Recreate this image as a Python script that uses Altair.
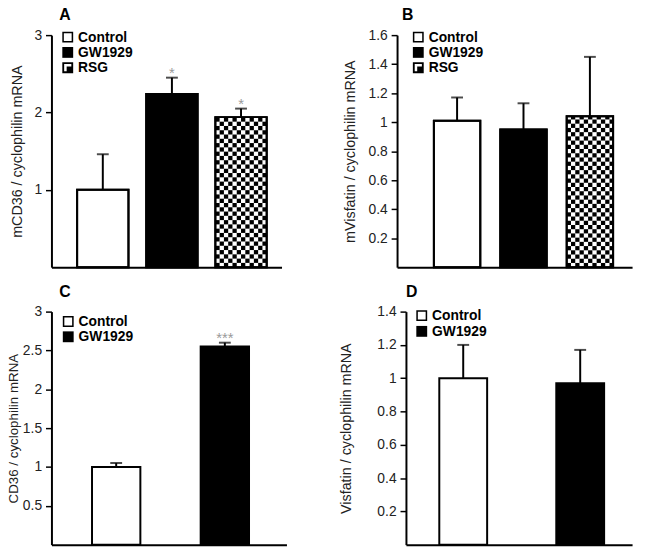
import altair as alt
import pandas as pd
import math

FONT = "Liberation Sans"

# ---------------- data ----------------
groups3 = ["Control", "GW1929", "RSG"]
groups2 = ["Control", "GW1929"]

a_mean = [1.00, 2.24, 1.94]
a_err = [0.46, 0.21, 0.11]
a_star = ["", "*", "*"]

b_mean = [1.01, 0.95, 1.04]
b_err = [0.16, 0.18, 0.41]
b_star = ["", "", ""]

c_mean = [1.00, 2.55]
c_err = [0.05, 0.05]
c_star = ["", "***"]

d_mean = [1.00, 0.97]
d_err = [0.20, 0.20]
d_star = ["", ""]

a_ticks = [1, 2, 3]
b_ticks = [0.2, 0.4, 0.6, 0.8, 1.0, 1.2, 1.4, 1.6]
c_ticks = [0.5, 1.0, 1.5, 2.0, 2.5, 3.0]
d_ticks = [0.2, 0.4, 0.6, 0.8, 1.0, 1.2, 1.4]

# legend symbol shapes (unit square -1..1)
SHAPE = {
    "Control": "M-1,-1H1V1H-1Z M-0.72,-0.72V0.72H0.72V-0.72Z",
    "GW1929": "M-1,-1H1V1H-1Z",
    "RSG": "M-1,-1H1V1H-1Z M-0.66,-0.66V0.66H0.66V-0.66Z M-0.2,-0.2H0.66V0.66H-0.2Z",
}
FILL = {"Control": "white", "GW1929": "black", "RSG": "white"}


def panel(groups, means, errs, stars, ymax, ticks, ytitle, letter, w, h,
          pin, pout, align, title_x, title_dx, leg_x, leg_y, leg_step=15.5,
          checker_cols=0, shift=0, title_size=14.5):
    df = pd.DataFrame({
        "group": groups,
        "mean": means,
        "upper": [m + e for m, e in zip(means, errs)],
        "star": stars,
    })
    span = w - shift
    xscale = alt.Scale(domain=groups, paddingInner=pin, paddingOuter=pout,
                       align=align, range=[shift, w])
    xaxis = alt.Axis(labels=False, ticks=False, title=None, domainColor="black",
                     domainWidth=2, grid=False)
    yscale = alt.Scale(domain=[0, ymax], nice=False, zero=True)
    yaxis = alt.Axis(values=ticks, format="~f", tickSize=6, tickWidth=1.5,
                     tickColor="black", domainColor="black", domainWidth=2,
                     labelFontSize=14, labelColor="#222", labelFont=FONT,
                     labelPadding=4, title=ytitle, titleFontSize=title_size,
                     titleFontWeight="normal", titleColor="#222", titleFont=FONT,
                     titleAngle=-90, titleX=title_x, titleY=h / 2,
                     titleAlign="center", titleBaseline="bottom", grid=False,
                     offset=-shift)
    X = alt.X("group:N", sort=groups, scale=xscale, axis=xaxis)

    base = alt.Chart(df)
    bars = base.mark_bar(stroke="black", strokeWidth=2).encode(
        x=X,
        y=alt.Y("mean:Q", scale=yscale, axis=yaxis),
        fill=alt.Fill("group:N", scale=alt.Scale(domain=groups,
                      range=[FILL[g] for g in groups]), legend=None),
    )
    layers = [bars]

    if checker_cols:
        # checkerboard texture for the RSG bar
        band_px = span / (len(groups) - pin + 2 * pout) * (1 - pin)
        cell_units = (band_px / checker_cols) * ymax / h
        rsg_val = means[groups.index("RSG")]
        nrows = math.ceil(rsg_val / cell_units)
        cells = []
        for r in range(nrows):
            y0 = r * cell_units
            y1 = min((r + 1) * cell_units, rsg_val)
            for c in range(checker_cols):
                if (r + c) % 2 == 0:
                    cells.append({"group": "RSG", "col": c, "y0": y0, "y1": y1})
        cdf = pd.DataFrame(cells)
        checker = alt.Chart(cdf).mark_bar(color="black").encode(
            x=X,
            xOffset=alt.XOffset("col:O", scale=alt.Scale(paddingInner=0, paddingOuter=0)),
            y=alt.Y("y0:Q", scale=yscale, axis=yaxis),
            y2="y1:Q",
        )
        outline = base.mark_bar(fillOpacity=0, stroke="black", strokeWidth=2).encode(
            x=X, y=alt.Y("mean:Q", scale=yscale, axis=yaxis)
        )
        layers += [checker, outline]

    err = base.mark_rule(color="black", strokeWidth=2).encode(
        x=X, y=alt.Y("mean:Q", scale=yscale, axis=yaxis), y2="upper:Q"
    )
    cap = base.mark_tick(color="black", size=12, thickness=2, orient="horizontal").encode(
        x=X, y=alt.Y("upper:Q", scale=yscale, axis=yaxis)
    )
    star = base.transform_filter("datum.star != ''").mark_text(
        color="#999", fontSize=15, font=FONT, baseline="alphabetic", dy=0
    ).encode(x=X, y=alt.Y("upper:Q", scale=yscale, axis=yaxis), text="star:N")
    layers += [err, cap, star]

    # legend (drawn as marks, one entry per group)
    for i, g in enumerate(groups):
        one = alt.Chart(pd.DataFrame({"group": [g]}))
        ypix = leg_y + leg_step * i
        layers.append(one.mark_point(shape=SHAPE[g], size=121, filled=True,
                                     color="black", opacity=1, strokeWidth=0).encode(
            x=alt.value(shift + leg_x), y=alt.value(ypix)))
        layers.append(one.mark_text(align="left", baseline="middle", fontSize=14,
                                    fontWeight="bold", font=FONT, color="black").encode(
            x=alt.value(shift + leg_x + 10.5), y=alt.value(ypix + 0.5), text="group:N"))

    return alt.layer(*layers).properties(
        width=w, height=h,
        title=alt.TitleParams(letter, anchor="start", frame="group", fontSize=16,
                              fontWeight="bold", font=FONT, color="black",
                              dx=shift + title_dx, offset=5),
    )


A = panel(groups3, a_mean, a_err, a_star, 3, a_ticks,
          "mCD36 / cyclophilin mRNA", "A", 233, 235, 0.257, 0.293, 0.634, -27, 8,
          16.5, 2, checker_cols=12)
B = panel(groups3, b_mean, b_err, b_star, 1.6, b_ticks,
          "mVisfatin / cyclophilin mRNA", "B", 238, 235, 0.301, 0.42, 0.66, -40, 5,
          21.5, 2, checker_cols=11)
C = panel(groups2, c_mean, c_err, c_star, 3, c_ticks,
          "CD36 / cyclophilin mRNA", "C", 238, 236, 0.555, 0.359, 0.52, -31, 8,
          17, 10, title_size=13.5)
D = panel(groups2, d_mean, d_err, d_star, 1.4, d_ticks,
          "Visfatin / cyclophilin mRNA", "D", 238, 236, 0.591, 0.262, 0.544, -53, 0,
          16, 4, leg_step=16, shift=9)

chart = alt.concat(A, B, C, D, columns=2, spacing={"row": 45, "column": 112},
                   bounds="flush", align="none").properties(
    autosize=alt.AutoSizeParams(type="none"),
    padding={"left": 44, "top": 24, "right": 594, "bottom": 522},
    background="white",
).configure_view(stroke=None).configure_axis(grid=False)

chart.save("out.html", embed_options={"renderer": "svg", "actions": False})
